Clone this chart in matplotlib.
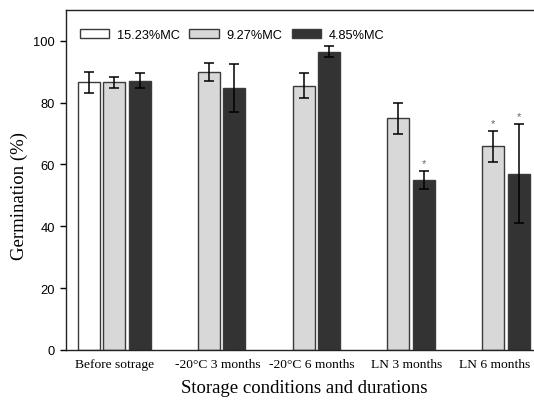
import matplotlib
matplotlib.use("Agg")
import matplotlib.pyplot as plt
import numpy as np

categories = ["Before sotrage", "-20\u00b0C 3 months", "-20\u00b0C 6 months", "LN 3 months", "LN 6 months"]
series_names = ["15.23%MC", "9.27%MC", "4.85%MC"]
# values per series (None = not measured)
mc15_mean = [86.5, None, None, None, None]
mc15_err = [3.5, None, None, None, None]
mc9_mean = [86.5, 89.9, 85.5, 74.9, 65.8]
mc9_err = [1.7, 2.9, 3.9, 5.0, 4.9]
mc4_mean = [87.1, 84.8, 96.5, 54.9, 57.0]
mc4_err = [2.3, 7.7, 1.7, 3.0, 16.0]
mc15_sig = [False, False, False, False, False]
mc9_sig = [False, False, False, False, True]
mc4_sig = [False, False, False, True, True]

fills = ["#ffffff", "#d8d8d8", "#333333"]
edge = "#3a3a3a"

fig = plt.figure(figsize=(5.34, 4.06), dpi=100)
ax = fig.add_axes([0.124, 0.1355, 0.876, 0.838])

step = 0.27
width = 0.233
series = [(mc15_mean, mc15_err, mc15_sig), (mc9_mean, mc9_err, mc9_sig), (mc4_mean, mc4_err, mc4_sig)]
for k, (means, errs, sigs) in enumerate(series):
    xs, ys, es, sg = [], [], [], []
    for i, (m, e, s) in enumerate(zip(means, errs, sigs)):
        if m is None:
            continue
        xs.append(i + (k - 1) * step)
        ys.append(m)
        es.append(e)
        sg.append(s)
    ax.bar(xs, ys, width=width, color=fills[k], edgecolor=edge, linewidth=1.0,
           label=series_names[k], zorder=2)
    ax.errorbar(xs, ys, yerr=es, fmt="none", ecolor="black", elinewidth=1.1,
                capsize=3.6, capthick=1.1, zorder=3)
    for x, y, e, s in zip(xs, ys, es, sg):
        if s:
            ax.text(x, y + e + 1.0, "*", ha="center", va="bottom", fontsize=8,
                    color="#666666", family="Liberation Sans")

ax.set_xlim(-0.506, 4.432)
ax.set_ylim(0, 110)
ax.set_yticks([0, 20, 40, 60, 80, 100])
tick_pos = [0.0, 1.09, 2.09, 3.09, 4.02]
ax.set_xticks(tick_pos)
ax.set_xticklabels(categories, family="Liberation Serif", fontsize=9.7)
ax.tick_params(axis="x", length=0, pad=6)
ax.tick_params(axis="y", length=4, width=1, direction="out", pad=4, labelsize=9.3)
for lab in ax.get_yticklabels():
    lab.set_family("Liberation Sans")

for sp in ["left", "bottom", "top"]:
    ax.spines[sp].set_linewidth(1.0)
    ax.spines[sp].set_color("#222222")
ax.spines["right"].set_visible(False)

ax.set_xlabel("Storage conditions and durations", family="Liberation Serif", fontsize=13.5)
ax.set_ylabel("Germination (%)", family="Liberation Serif", fontsize=13.5)
ax.xaxis.set_label_coords(0.509, -0.085)
ax.yaxis.set_label_coords(-0.1, 50 / 110)
ax.yaxis.label.set_va("center")

leg = ax.legend(loc="center left", bbox_to_anchor=(0.0293, 0.927), ncol=3, frameon=False,
                borderpad=0, borderaxespad=0, handlelength=2.3, handleheight=0.72,
                handletextpad=0.6, columnspacing=0.75,
                prop={"family": "Liberation Sans", "size": 9.2})

fig.savefig("out.png", dpi=100)
